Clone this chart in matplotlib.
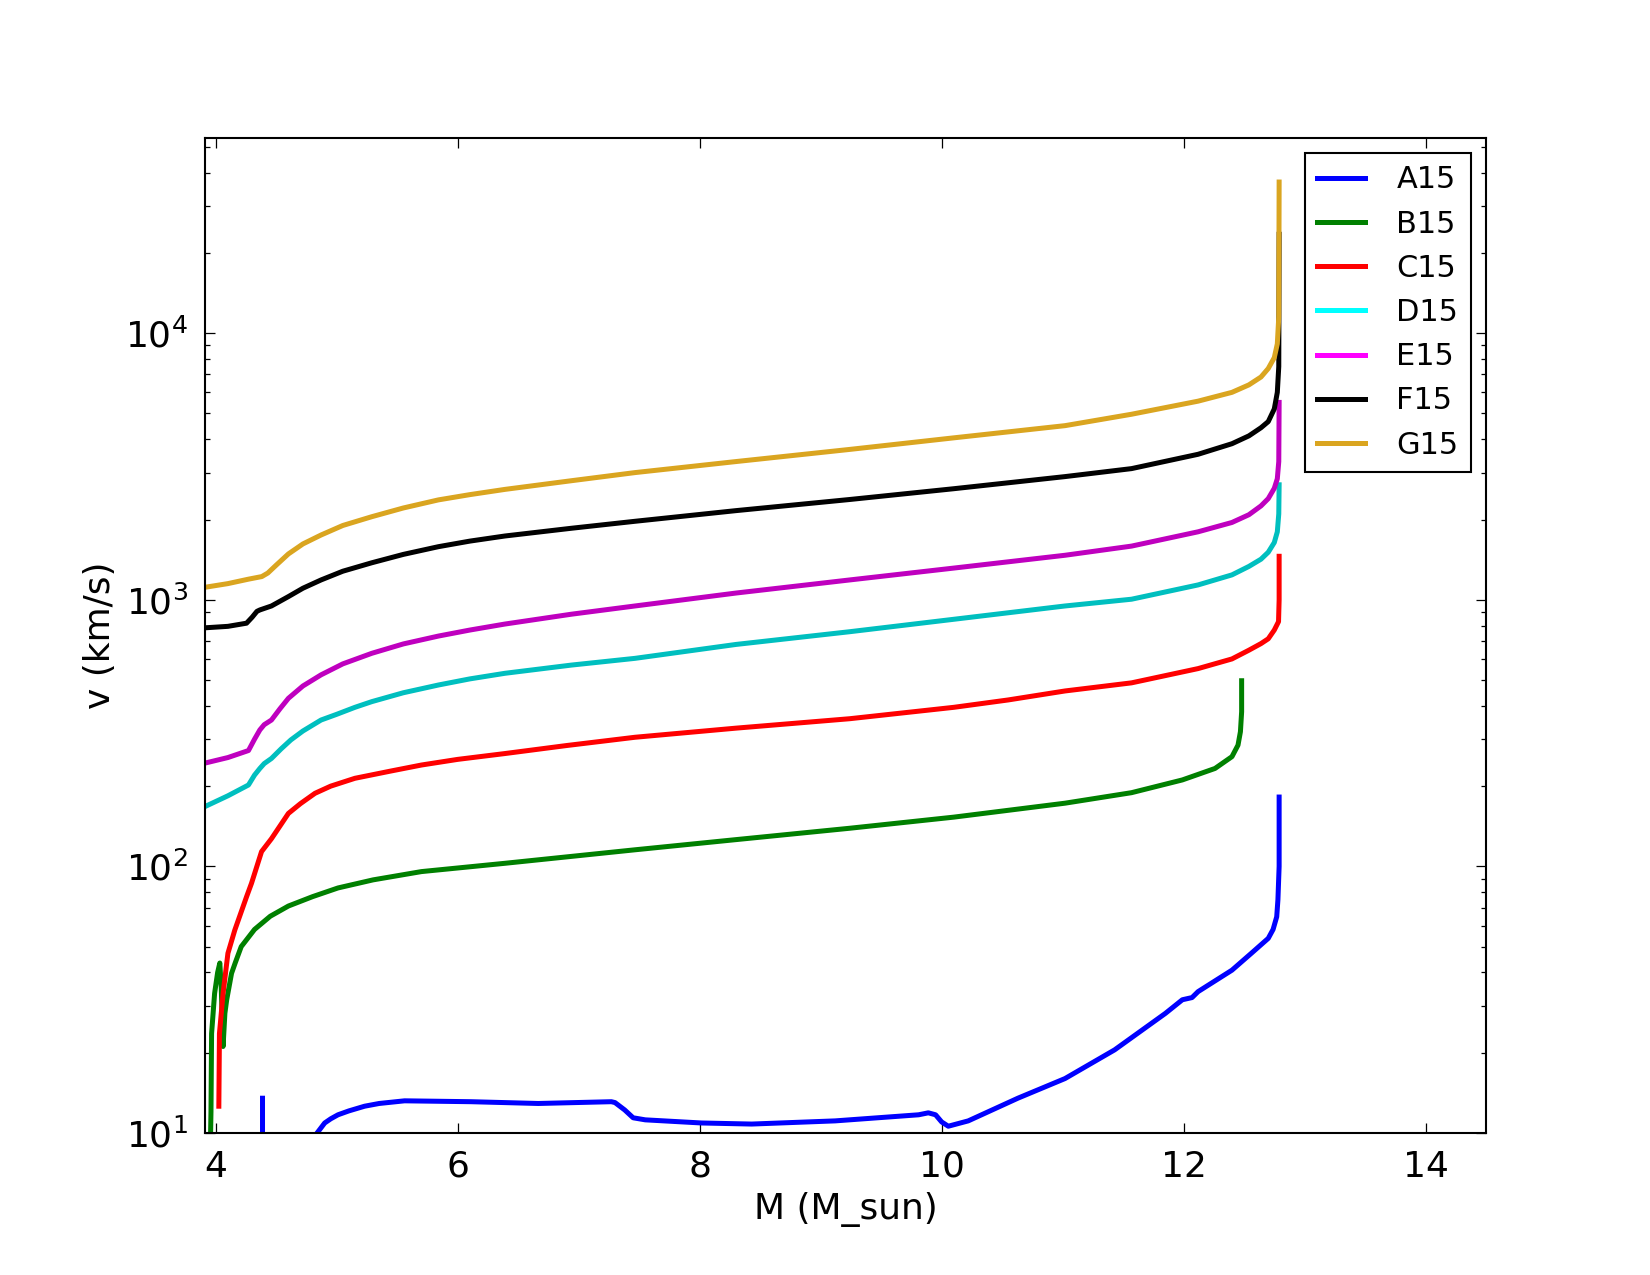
import numpy as np
import matplotlib
matplotlib.use("Agg")
import matplotlib.pyplot as plt

# masses (M_sun) and velocities (km/s)
a15_m = [4.386, 4.386, 4.40, 4.83, 4.90, 4.95, 5.01, 5.10, 5.23, 5.35, 5.56, 6.11, 6.665, 7.27,
         7.30, 7.38, 7.45, 7.55, 8.016, 8.43, 9.12, 9.81, 9.89, 9.95, 10.0, 10.055, 10.22,
         10.63, 11.02, 11.43, 11.85, 11.99, 12.07, 12.12, 12.40, 12.56, 12.70, 12.74, 12.77,
         12.78, 12.79, 12.79]
a15_v = [13.5, 8.0, 1.0, 9.9, 10.9, 11.3, 11.7, 12.1, 12.6, 12.9, 13.2, 13.1, 12.9, 13.1,
         13.0, 12.2, 11.4, 11.2, 10.9, 10.8, 11.1, 11.7, 11.9, 11.7, 11.0, 10.6, 11.1,
         13.5, 16.0, 20.5, 28.1, 31.6, 32.2, 33.9, 40.8, 47.2, 53.7, 58.0, 64.7,
         75.0, 100.0, 182.0]

b15_m = [3.95, 3.955, 3.96, 3.965, 3.99, 4.015, 4.033, 4.045, 4.06, 4.075, 4.09, 4.13, 4.16,
         4.21, 4.32, 4.45, 4.60, 4.80, 5.01, 5.30, 5.70, 6.39, 7.465, 8.3, 9.24, 10.1, 11.02,
         11.57, 11.99, 12.26, 12.40, 12.45, 12.47, 12.48, 12.48]
b15_v = [5.0, 9.0, 12.0, 23.6, 33.4, 40.0, 43.4, 35.0, 21.1, 28.1, 31.6, 39.7, 43.4,
         50.0, 58.0, 65.0, 71.0, 77.0, 83.0, 89.0, 95.6, 102.7, 115.4, 126.0, 139.0, 153.0, 172.6,
         189.0, 211.0, 233.0, 258.0, 285.0, 320.0, 380.0, 497.0]

c15_m = [4.025, 4.03, 4.06, 4.10, 4.157, 4.254, 4.295, 4.378, 4.46, 4.60, 4.70, 4.82, 4.95,
         5.15, 5.45, 5.70, 6.0, 6.39, 6.9, 7.465, 8.3, 9.24, 10.1, 10.55, 11.02, 11.57, 12.12,
         12.40, 12.54, 12.64, 12.70, 12.75, 12.785, 12.79, 12.79]
c15_v = [12.6, 23.6, 33.4, 47.2, 57.7, 76.9, 86.4, 113.6, 127.0, 158.0, 172.0, 188.0, 200.0,
         214.0, 228.0, 240.0, 252.0, 265.0, 284.0, 305.0, 330.0, 358.0, 395.0, 421.0, 455.0, 488.0, 552.0,
         600.0, 647.0, 685.0, 714.0, 770.0, 828.0, 1000.0, 1456.0]

d15_m = [3.91, 4.10, 4.27, 4.32, 4.364, 4.40, 4.46, 4.54, 4.62, 4.72, 4.87, 5.0, 5.15, 5.29,
         5.55, 5.84, 6.10, 6.39, 6.94, 7.465, 8.3, 9.24, 10.1, 11.02, 11.57, 12.12, 12.40,
         12.54, 12.64, 12.70, 12.75, 12.775, 12.787, 12.79]
d15_v = [167.6, 184.0, 202.0, 220.0, 233.0, 243.0, 254.0, 276.0, 298.0, 322.0, 354.0, 372.0, 395.0, 415.0,
         448.0, 479.0, 505.0, 530.0, 569.0, 603.0, 680.0, 759.0, 845.0, 948.0, 1005.0, 1137.0, 1240.0,
         1334.0, 1420.0, 1508.0, 1640.0, 1799.0, 2100.0, 2700.0]

e15_m = [3.91, 4.10, 4.27, 4.32, 4.364, 4.40, 4.46, 4.53, 4.60, 4.72, 4.87, 5.05, 5.29, 5.55,
         5.84, 6.10, 6.39, 6.94, 7.465, 8.3, 9.24, 10.1, 11.02, 11.57, 12.12, 12.40, 12.54,
         12.64, 12.70, 12.75, 12.775, 12.787, 12.79]
e15_v = [244.0, 256.0, 272.0, 300.0, 325.0, 340.0, 354.0, 390.0, 427.0, 475.0, 523.0, 575.0, 630.0, 683.0,
         731.0, 770.0, 811.0, 883.0, 948.0, 1060.0, 1187.0, 1315.0, 1469.0, 1590.0, 1799.0, 1950.0, 2085.0,
         2250.0, 2396.0, 2620.0, 2845.0, 3300.0, 5500.0]

f15_m = [3.91, 4.10, 4.254, 4.30, 4.34, 4.364, 4.46, 4.60, 4.72, 4.87, 5.05, 5.29, 5.55, 5.84,
         6.10, 6.39, 6.94, 7.465, 8.3, 9.24, 10.1, 11.02, 11.57, 12.12, 12.40, 12.54, 12.64,
         12.70, 12.75, 12.775, 12.787, 12.79]
f15_v = [785.0, 795.0, 817.0, 860.0, 905.0, 916.0, 948.0, 1028.0, 1105.0, 1187.0, 1280.0, 1377.0, 1480.0, 1582.0,
         1660.0, 1735.0, 1855.0, 1970.0, 2160.0, 2378.0, 2610.0, 2898.0, 3105.0, 3514.0, 3850.0, 4120.0, 4420.0,
         4660.0, 5200.0, 6000.0, 7500.0, 23500.0]

g15_m = [3.91, 4.10, 4.27, 4.38, 4.43, 4.50, 4.60, 4.72, 4.87, 5.05, 5.29, 5.55, 5.84, 6.10,
         6.39, 6.94, 7.465, 8.3, 9.24, 10.1, 11.02, 11.57, 12.12, 12.40, 12.54, 12.64, 12.70,
         12.75, 12.775, 12.787, 12.79]
g15_v = [1114.0, 1150.0, 1195.0, 1222.0, 1260.0, 1350.0, 1486.0, 1620.0, 1750.0, 1900.0, 2050.0, 2210.0, 2370.0, 2480.0,
         2595.0, 2797.0, 3000.0, 3300.0, 3665.0, 4050.0, 4500.0, 4966.0, 5560.0, 6000.0, 6400.0, 6850.0, 7370.0,
         8100.0, 9120.0, 11500.0, 36900.0]

names = ["A15", "B15", "C15", "D15", "E15", "F15", "G15"]
masses = [a15_m, b15_m, c15_m, d15_m, e15_m, f15_m, g15_m]
vels = [a15_v, b15_v, c15_v, d15_v, e15_v, f15_v, g15_v]
line_colors = ["#0000ff", "#008000", "#ff0000", "#00bfbf", "#bf00bf", "#000000", "#daa520"]
legend_colors = ["#0000ff", "#008000", "#ff0000", "#00ffff", "#ff00ff", "#000000", "#daa520"]

fig = plt.figure(figsize=(11, 8.5), dpi=150)
ax = fig.add_axes([0.1242, 0.1114, 0.7764, 0.7804])

for m, v, c in zip(masses, vels, line_colors):
    ax.plot(m, v, color=c, linewidth=2.4, solid_joinstyle="round")

ax.set_yscale("log")
ax.set_xlim(3.91, 14.5)
ax.set_ylim(10, 5.4e4)
ax.set_xticks([4, 6, 8, 10, 12, 14])

ax.tick_params(which="both", direction="in", top=True, right=True, labelsize=17.3, pad=8)
ax.tick_params(which="major", length=5, width=0.6)
ax.tick_params(which="minor", length=2.5, width=0.6)
for s in ax.spines.values():
    s.set_linewidth(1.0)

ax.set_xlabel("M (M_sun)", fontsize=17.3)
ax.set_ylabel("v (km/s)", fontsize=17.3)

# legend uses the pure colours, as in the original
handles = [plt.Line2D([], [], color=c, linewidth=2.4) for c in legend_colors]
leg = ax.legend(handles, names, loc="upper right", fontsize=14.6, fancybox=False,
                framealpha=1, edgecolor="black", borderpad=0.4, handlelength=1.55,
                handletextpad=1.05, labelspacing=0.5, borderaxespad=0.5)
leg.get_frame().set_linewidth(1.0)

fig.savefig("out.png", dpi=150)
